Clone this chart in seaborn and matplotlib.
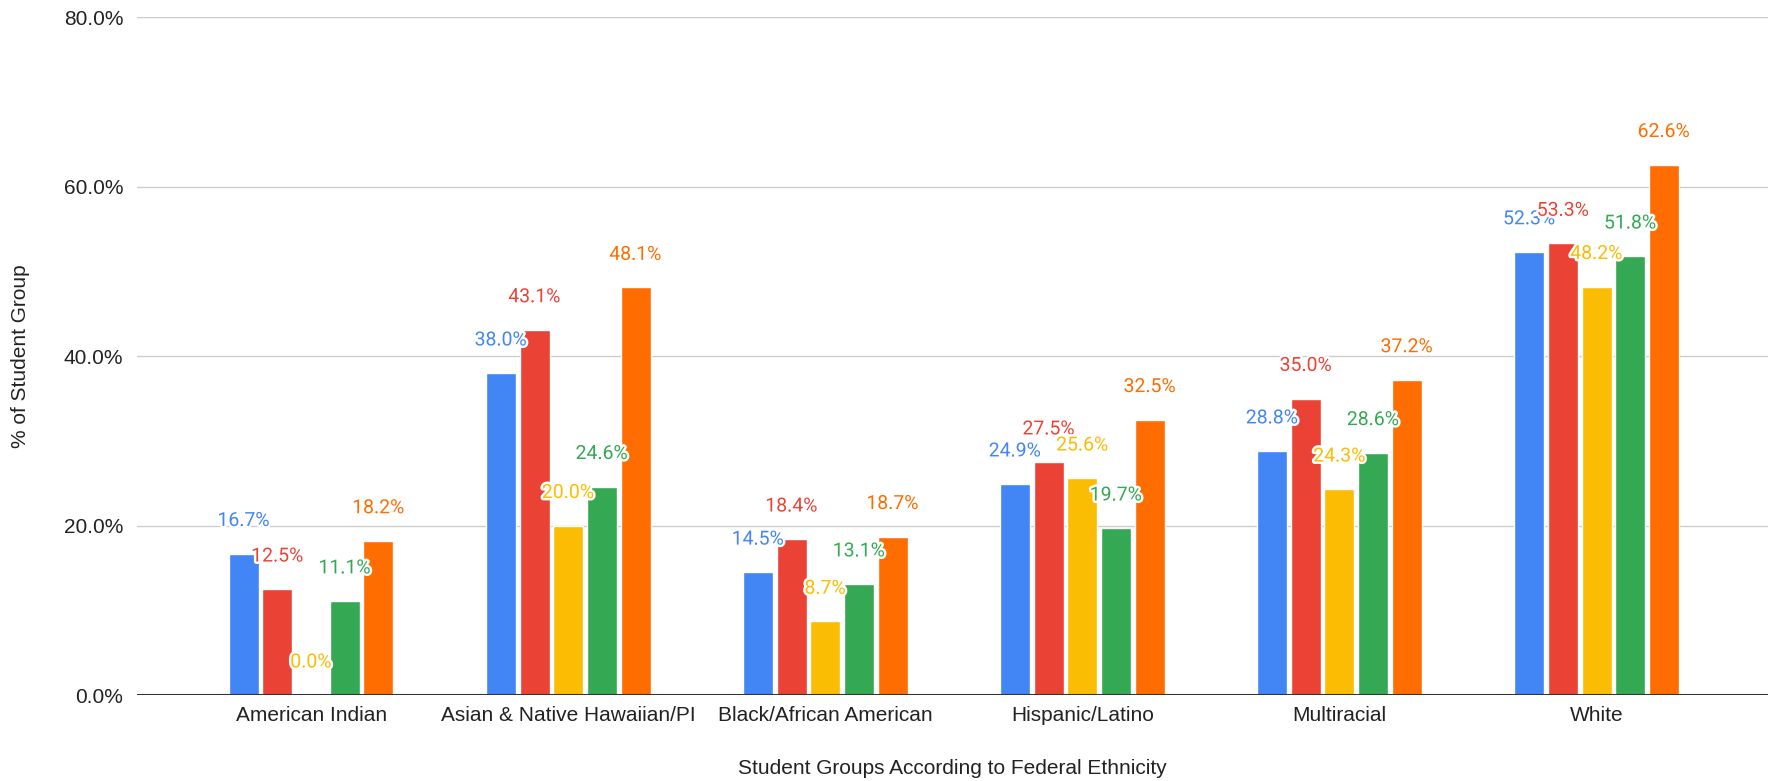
import pandas as pd
import matplotlib
matplotlib.use("Agg")
import matplotlib.pyplot as plt
import matplotlib.patheffects as pe
from matplotlib.ticker import FuncFormatter
import seaborn as sns

# ---------------------------
# Data
# ---------------------------
groups = ["American Indian", "Asian & Native Hawaiian/PI", "Black/African American",
          "Hispanic/Latino", "Multiracial", "White"]
series_names = ["Series 1", "Series 2", "Series 3", "Series 4", "Series 5"]
series_1 = [16.7, 38.0, 14.5, 24.9, 28.8, 52.3]
series_2 = [12.5, 43.1, 18.4, 27.5, 35.0, 53.3]
series_3 = [0.0, 20.0, 8.7, 25.6, 24.3, 48.2]
series_4 = [11.1, 24.6, 13.1, 19.7, 28.6, 51.8]
series_5 = [18.2, 48.1, 18.7, 32.5, 37.2, 62.6]
colors = ["#4285F4", "#EA4335", "#FBBC04", "#34A853", "#FF6D01"]

rows = []
for name, vals in zip(series_names, [series_1, series_2, series_3, series_4, series_5]):
    for g, v in zip(groups, vals):
        rows.append({"group": g, "series": name, "value": v})
df = pd.DataFrame(rows)

# ---------------------------
# Plot
# ---------------------------
sns.set_style("white")
plt.rcParams["font.family"] = ["Liberation Sans", "DejaVu Sans"]

fig = plt.figure(figsize=(17.73, 7.81), dpi=100)
ax = fig.add_axes([0.0773, 0.110, 0.9199, 0.868])

sns.barplot(data=df, x="group", y="value", hue="series", palette=colors,
            width=0.655, gap=0.11, saturation=1, legend=False, ax=ax, zorder=2)

# data labels, centred above each bar with a white halo
for container, col in zip(ax.containers, colors):
    for bar in container:
        h = bar.get_height()
        ax.annotate(f"{h:.1f}%", (bar.get_x() + bar.get_width() / 2, h),
                    xytext=(0, 23.5), textcoords="offset points",
                    ha="center", va="center", fontsize=14, color=col,
                    family=["Roboto", "DejaVu Sans"], zorder=5,
                    path_effects=[pe.withStroke(linewidth=3.5, foreground="white")])

ax.set_ylim(0, 80)
ax.set_xlim(-0.677, 5.667)
ax.set_yticks([0, 20, 40, 60, 80])
ax.yaxis.set_major_formatter(FuncFormatter(lambda v, p: f"{v:.1f}%"))
ax.grid(axis="y", color="#cccccc", linewidth=1, zorder=0)
ax.set_axisbelow(True)
ax.axhline(0, color="#333333", linewidth=1.5, zorder=3)

for s in ["top", "right", "left", "bottom"]:
    ax.spines[s].set_visible(False)

ax.tick_params(axis="both", length=0, labelsize=15, colors="#222222")
ax.tick_params(axis="y", pad=10)
ax.tick_params(axis="x", pad=8)

ax.set_xlabel("Student Groups According to Federal Ethnicity", fontsize=15,
              color="#222222", labelpad=24)
ax.set_ylabel("% of Student Group", fontsize=15, color="#222222", labelpad=24)

fig.savefig("out.png", dpi=100)
print("saved out.png")
